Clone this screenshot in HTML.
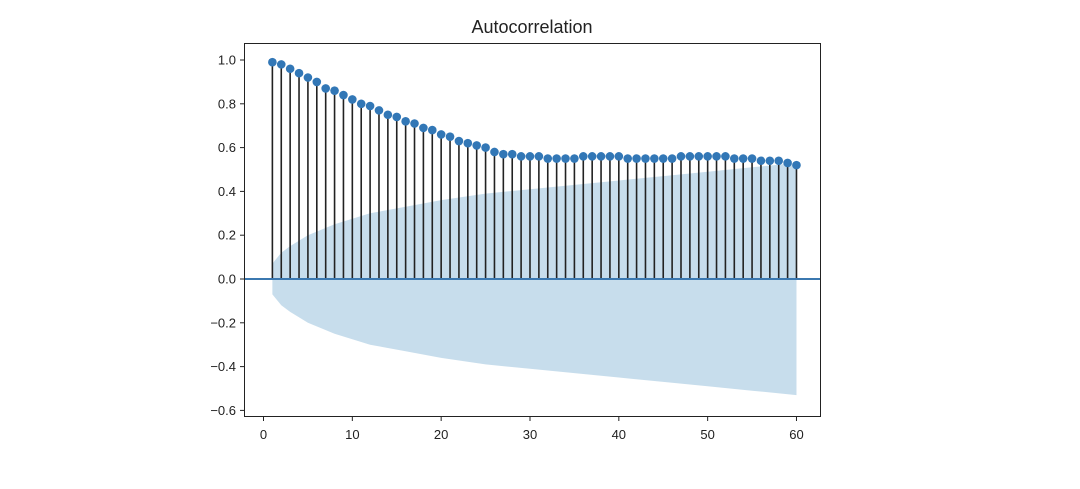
<!DOCTYPE html>
<html><head><meta charset="utf-8"><style>
html,body{margin:0;padding:0;background:#fff;}
svg{display:block;font-family:"Liberation Sans","DejaVu Sans",sans-serif;}
</style></head><body>
<svg id="chart" width="1080" height="489" xmlns="http://www.w3.org/2000/svg">
<text x="532" y="33" text-anchor="middle" font-size="18" fill="#222">Autocorrelation</text>
<g id="band"></g>
<g id="stems"></g>
<g id="zero"></g>
<g id="markers"></g>
<rect x="244.5" y="43.5" width="576" height="373" fill="none" stroke="#222" stroke-width="1"/>
<g id="yaxis"></g>
<g id="xaxis"></g>
</svg>
<script>
const lags = [];
for (let i = 1; i <= 60; i++) lags.push(i);
const acfValues = [0.99,0.98,0.96,0.94,0.92,0.90,0.87,0.86,0.84,0.82,
  0.80,0.79,0.77,0.75,0.74,0.72,0.71,0.69,0.68,0.66,
  0.65,0.63,0.62,0.61,0.60,0.58,0.57,0.57,0.56,0.56,
  0.56,0.55,0.55,0.55,0.55,0.56,0.56,0.56,0.56,0.56,
  0.55,0.55,0.55,0.55,0.55,0.55,0.56,0.56,0.56,0.56,
  0.56,0.56,0.55,0.55,0.55,0.54,0.54,0.54,0.53,0.52];
const bandLags = [1,2,3,5,8,12,16,20,25,30,35,40,45,50,55,60];
const bandValues = [0.07,0.12,0.15,0.20,0.25,0.30,0.33,0.36,0.39,0.41,0.43,0.45,0.47,0.49,0.51,0.53];
const yTicks = [1.0,0.8,0.6,0.4,0.2,0.0,-0.2,-0.4,-0.6];
const xTicks = [0,10,20,30,40,50,60];

const NS = "http://www.w3.org/2000/svg";
const X = v => 263.5 + v * 8.883;
const Y = v => 279 - v * 219;
function mk(tag, attrs, parent){const e=document.createElementNS(NS,tag);for(const k in attrs)e.setAttribute(k,attrs[k]);parent.appendChild(e);return e;}

// band
let d = "";
bandLags.forEach((l,i)=>{d += (i?"L":"M")+X(l)+","+Y(bandValues[i]);});
for (let i = bandLags.length-1; i >= 0; i--) d += "L"+X(bandLags[i])+","+Y(-bandValues[i]);
d += "Z";
const band = mk("path",{d:d,fill:"#1f77b4","fill-opacity":"0.25",stroke:"none"},document.getElementById("band"));



const sg = document.getElementById("stems"), mg = document.getElementById("markers");
lags.forEach((l,i)=>{
  const s = mk("line",{x1:X(l),x2:X(l),y1:Y(0),y2:Y(acfValues[i]),stroke:"#222","stroke-width":"1.6"},sg);
  
  
  const c = mk("circle",{cx:X(l),cy:Y(acfValues[i]),r:"4.3",fill:"#3277b6"},mg);
  
  
});
const z = mk("line",{x1:244.5,x2:820.5,y1:Y(0),y2:Y(0),stroke:"#3b78b0","stroke-width":"2"},document.getElementById("zero"));



const ya = document.getElementById("yaxis");
yTicks.forEach(t=>{
  const y = Y(t);
  mk("line",{x1:240,x2:244.5,y1:y,y2:y,stroke:"#222","stroke-width":"1"},ya);
  const tx = mk("text",{x:236,y:y+4.5,"text-anchor":"end","font-size":"13",fill:"#222"},ya);
  tx.textContent = (t<0?"\u2212":"")+Math.abs(t).toFixed(1);
  
  
});
const xa = document.getElementById("xaxis");
xTicks.forEach(t=>{
  const x = X(t);
  mk("line",{x1:x,x2:x,y1:416.5,y2:421,stroke:"#222","stroke-width":"1"},xa);
  const tx = mk("text",{x:x,y:439,"text-anchor":"middle","font-size":"13",fill:"#222"},xa);
  tx.textContent = t;
  
  
});
</script>
</body></html>
